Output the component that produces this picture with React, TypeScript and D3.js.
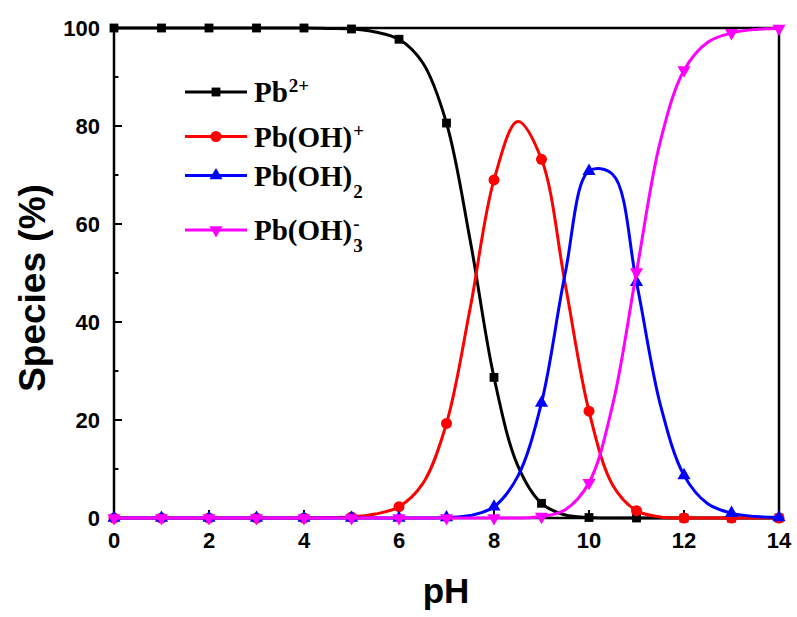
import React, { useEffect, useRef } from 'react';
import * as d3 from 'd3';

// pH grid of the curves (markers are drawn at the whole numbers)
const phValues = [0, 0.5, 1, 1.5, 2, 2.5, 3, 3.5, 4, 4.5, 5, 5.5, 6, 6.5, 7, 7.5, 8, 8.5, 9, 9.5, 10, 10.5, 11, 11.5, 12, 12.5, 13, 13.5, 14];

const pb2 = [100, 100, 100, 100, 100, 100, 100, 100, 100, 99.9, 99.8, 99.2, 97.7, 92.9, 80.6, 56.6, 28.7, 10.7, 3.0, 0.6, 0.1, 0, 0, 0, 0, 0, 0, 0, 0];
const pbOH = [0, 0, 0, 0, 0, 0, 0, 0, 0, 0.1, 0.2, 0.8, 2.3, 7.0, 19.3, 42.9, 69.0, 80.9, 73.2, 47.7, 21.8, 6.7, 1.5, 0.2, 0, 0, 0, 0, 0];
const pbOH2 = [0, 0, 0, 0, 0, 0, 0, 0, 0, 0, 0, 0, 0, 0, 0.1, 0.5, 2.3, 8.5, 23.5, 50.0, 70.8, 70.1, 48.1, 23.2, 8.7, 2.9, 1.0, 0.3, 0.1];
const pbOH3 = [0, 0, 0, 0, 0, 0, 0, 0, 0, 0, 0, 0, 0, 0, 0, 0, 0, 0, 0.3, 1.7, 7.2, 23.2, 50.2, 76.8, 91.4, 97.1, 99.0, 99.7, 99.9];

const xTicks = [0, 2, 4, 6, 8, 10, 12, 14];
const yTicks = [0, 20, 40, 60, 80, 100];

const series = [
  { key: 'pb2', values: pb2, color: '#000000', symbol: 'square', label: ['Pb', '2+', null] },
  { key: 'pbOH', values: pbOH, color: '#ff0000', symbol: 'circle', label: ['Pb(OH)', '+', null] },
  { key: 'pbOH2', values: pbOH2, color: '#0000ff', symbol: 'up', label: ['Pb(OH)', null, '2'] },
  { key: 'pbOH3', values: pbOH3, color: '#ff00ff', symbol: 'down', label: ['Pb(OH)', '-', '3'] },
];

const symbolPath = (kind: string) => {
  if (kind === 'square') return d3.symbol(d3.symbolSquare, 78)();
  if (kind === 'circle') return d3.symbol(d3.symbolCircle, 95)();
  return d3.symbol(d3.symbolTriangle, 75)();
};

const App = () => {
  const ref = useRef<SVGSVGElement>(null);

  useEffect(() => {
    drawChart();
  }, []);

  const drawChart = () => {
    const svg = d3.select(ref.current);
    svg.selectAll('*').remove();

    const left = 114, right = 779, top = 28, bottom = 518;

    const x = d3.scaleLinear().domain([0, 14]).range([left, right]);
    const y = d3.scaleLinear().domain([0, 100]).range([bottom, top]);

    const axisFont = 'Arial, "Liberation Sans", sans-serif';

    // frame
    svg.append('rect')
      .attr('x', left).attr('y', top)
      .attr('width', right - left).attr('height', bottom - top)
      .attr('fill', 'none').attr('stroke', '#000').attr('stroke-width', 2.5);

    // y ticks (inward)
    d3.range(0, 101, 10).forEach(v => {
      const major = v % 20 === 0;
      svg.append('line')
        .attr('x1', left).attr('x2', left + (major ? 8 : 4.5))
        .attr('y1', y(v)).attr('y2', y(v))
        .attr('stroke', '#000').attr('stroke-width', 2);
    });
    // x ticks (inward)
    d3.range(0, 15, 1).forEach(v => {
      const major = v % 2 === 0;
      svg.append('line')
        .attr('x1', x(v)).attr('x2', x(v))
        .attr('y1', bottom).attr('y2', bottom - (major ? 8 : 4.5))
        .attr('stroke', '#000').attr('stroke-width', 2);
    });

    svg.append('g').selectAll('text')
      .data(yTicks).enter().append('text')
      .attr('x', left - 14).attr('y', d => y(d)).attr('dy', '0.36em')
      .attr('text-anchor', 'end')
      .style('font', `bold 22px ${axisFont}`)
      .text(d => d);

    svg.append('g').selectAll('text')
      .data(xTicks).enter().append('text')
      .attr('x', d => x(d)).attr('y', 548)
      .attr('text-anchor', 'middle')
      .style('font', `bold 22px ${axisFont}`)
      .text(d => d);

    svg.append('text')
      .attr('x', 446).attr('y', 603)
      .attr('text-anchor', 'middle')
      .style('font', `bold 35px ${axisFont}`)
      .text('pH');

    svg.append('text')
      .attr('transform', 'translate(45,288) rotate(-90)')
      .attr('text-anchor', 'middle')
      .style('font', `bold 37px ${axisFont}`)
      .text('Species (%)');

    const line = d3.line<number>()
      .x((_, i) => x(phValues[i]))
      .y(d => y(d))
      .curve(d3.curveCatmullRom.alpha(0.5));

    series.forEach(s => {
      svg.append('path')
        .attr('d', line(s.values))
        .attr('fill', 'none')
        .attr('stroke', s.color)
        .attr('stroke-width', 3);

      const pts = s.values.map((v, i) => [phValues[i], v]).filter(p => Number.isInteger(p[0]));
      svg.append('g').selectAll('path')
        .data(pts).enter().append('path')
        .attr('d', symbolPath(s.symbol))
        .attr('transform', d => `translate(${x(d[0])},${y(d[1])})${s.symbol === 'down' ? ' rotate(180)' : ''}`)
        .attr('fill', s.color);
    });

    // legend
    const legendY = [92, 136.5, 175.5, 230];
    const serif = '"Times New Roman", "Liberation Serif", serif';
    series.forEach((s, i) => {
      const ly = legendY[i];
      svg.append('line')
        .attr('x1', 185).attr('x2', 247)
        .attr('y1', ly).attr('y2', ly)
        .attr('stroke', s.color).attr('stroke-width', 3);
      svg.append('path')
        .attr('d', symbolPath(s.symbol))
        .attr('transform', `translate(216,${ly})${s.symbol === 'down' ? ' rotate(180)' : ''}`)
        .attr('fill', s.color);

      const [main, sup, sub] = s.label;
      const baseY = ly + 10;
      const t = svg.append('text')
        .attr('x', 254).attr('y', baseY)
        .style('font', `bold 29px ${serif}`);
      t.append('tspan').text(main as string);
      const endX = 254 + (t.node() as SVGTextElement).getComputedTextLength();
      if (sub) {
        svg.append('text')
          .attr('x', endX + 1).attr('y', baseY + 12)
          .style('font', `bold 19px ${serif}`)
          .text(sub);
      }
      if (sup) {
        svg.append('text')
          .attr('x', endX + 1).attr('y', baseY - 10)
          .style('font', `bold 19px ${serif}`)
          .text(sup);
      }
    });
  };

  return (
    <svg ref={ref} width={797} height={617} style={{ position: 'absolute', left: 0, top: 0, background: '#fff' }} />
  );
};

export default App;
